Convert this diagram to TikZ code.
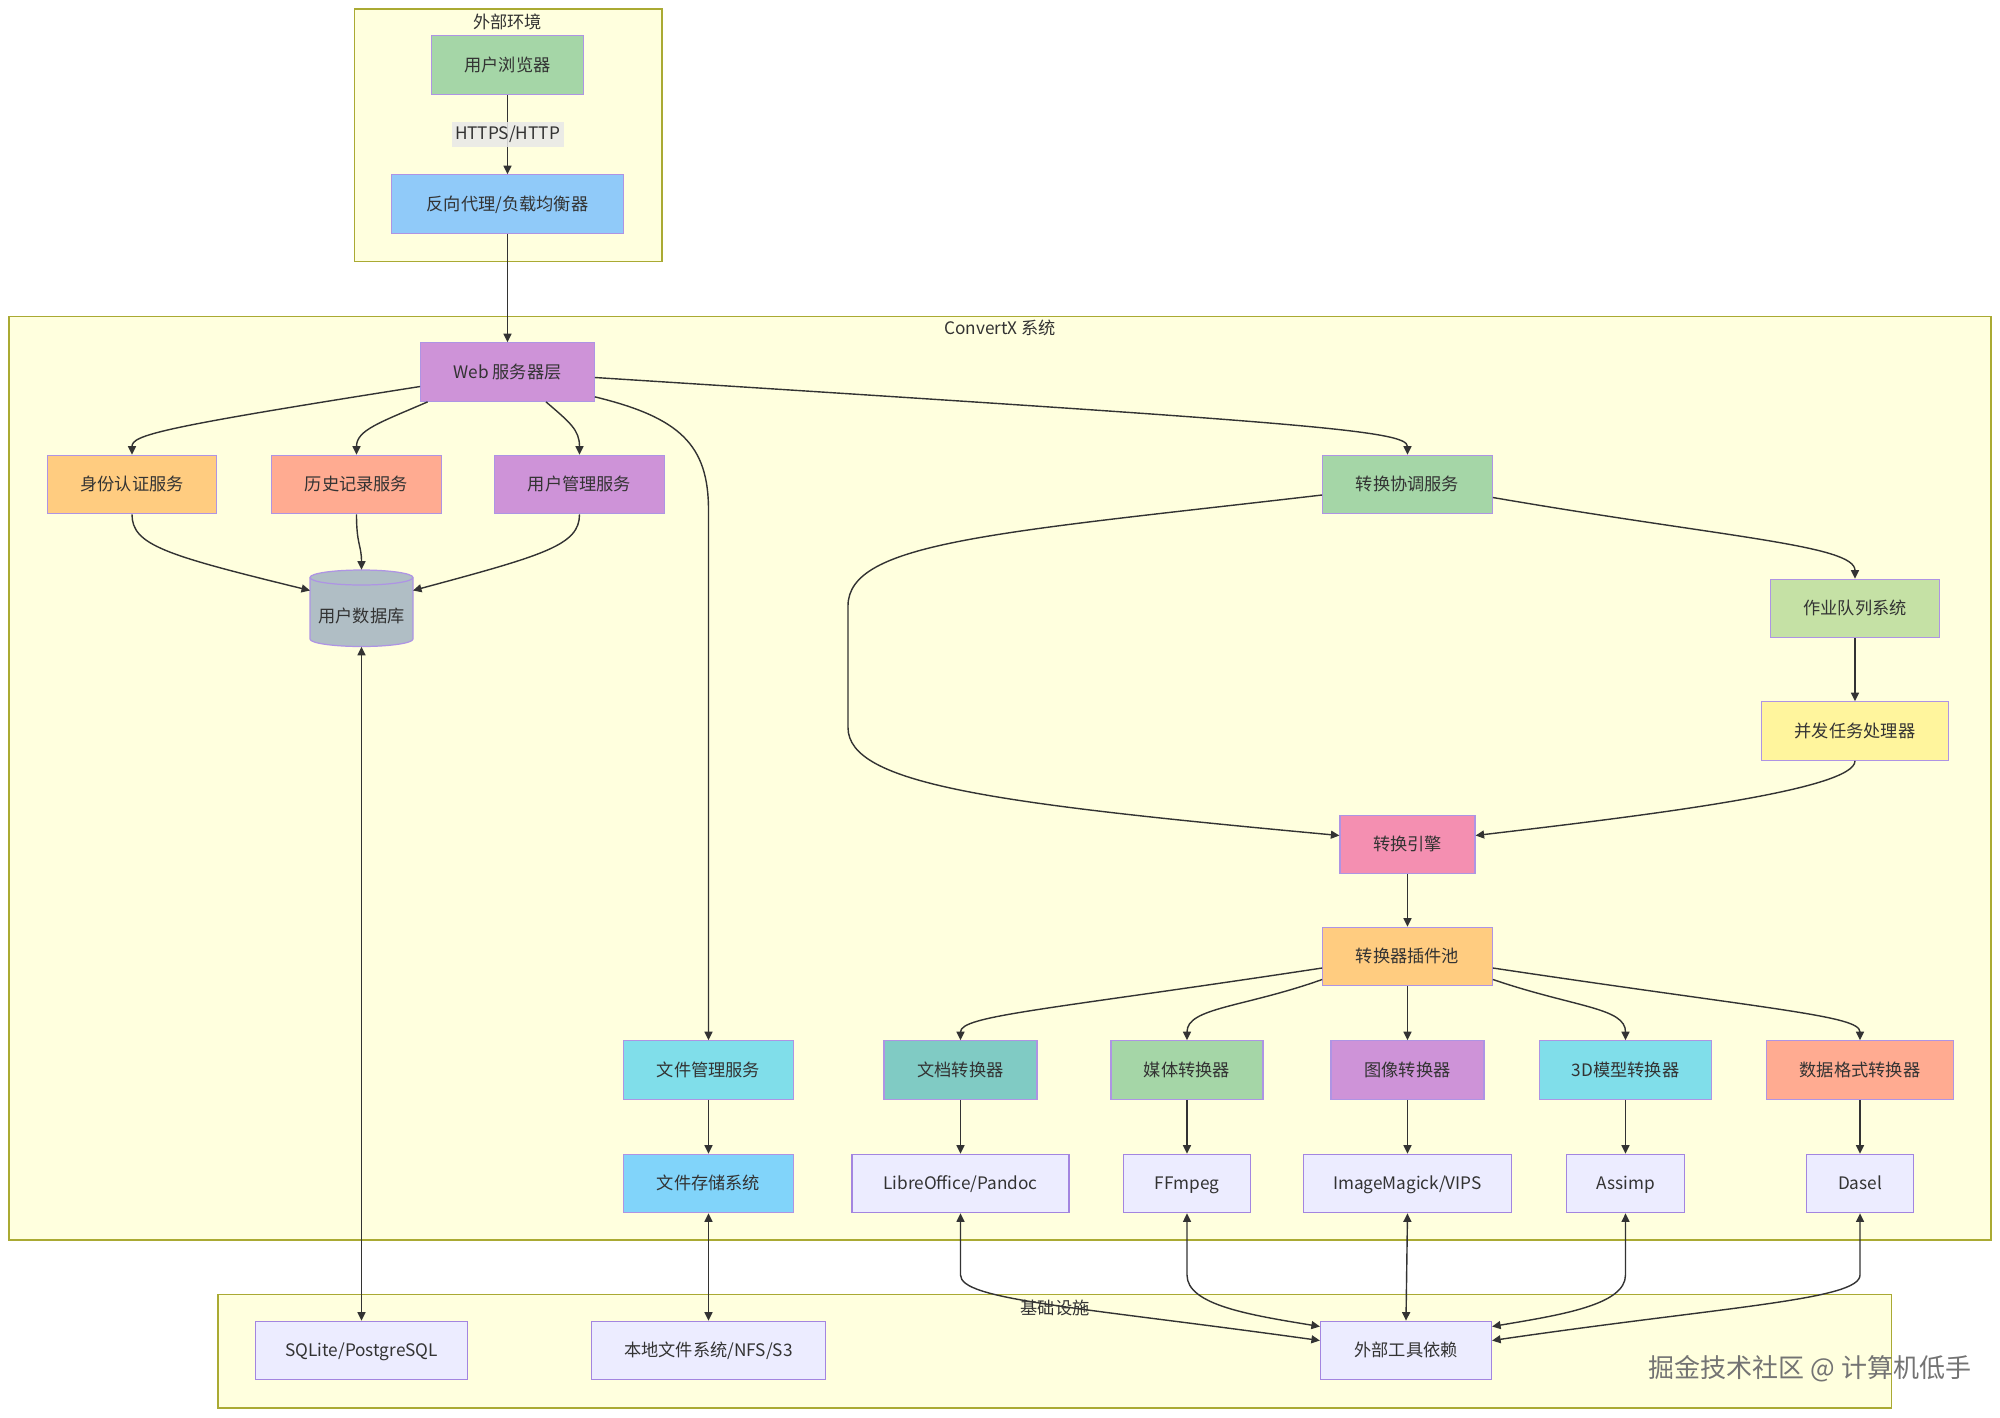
\documentclass[tikz,border=0pt]{standalone}
\usepackage{fontspec}
\setmainfont{Noto Sans CJK SC}
\usetikzlibrary{arrows.meta}

\definecolor{grpfill}{HTML}{FFFFDE}
\definecolor{grpline}{HTML}{AAAA33}
\definecolor{ndline}{HTML}{9370DB}
\definecolor{linecol}{HTML}{333333}
\definecolor{txtcol}{HTML}{333333}
\definecolor{lblfill}{HTML}{E8E8E8}
\definecolor{toolfill}{HTML}{ECECFF}
\definecolor{cGreen}{HTML}{A5D6A7}
\definecolor{cBlue}{HTML}{90CAF9}
\definecolor{cPurple}{HTML}{CE93D8}
\definecolor{cOrange}{HTML}{FFCC80}
\definecolor{cSalmon}{HTML}{FFAB91}
\definecolor{cGrey}{HTML}{B0BEC5}
\definecolor{cLime}{HTML}{C5E1A5}
\definecolor{cYellow}{HTML}{FFF59D}
\definecolor{cPink}{HTML}{F48FB1}
\definecolor{cCyan}{HTML}{80DEEA}
\definecolor{cTeal}{HTML}{80CBC4}
\definecolor{cSky}{HTML}{81D4FA}

\begin{document}
\begin{tikzpicture}[
  font=\fontsize{9.8}{12}\selectfont,
  text=txtcol,
  nd/.style={draw=ndline!75, line width=0.7pt, minimum height=1.17cm, inner sep=0pt, align=center,
    text height=0.85em, text depth=0.15em},
  tool/.style={nd, fill=toolfill, draw=ndline!85},
  grp/.style={fill=grpfill, draw=grpline, line width=0.7pt},
  grptitle/.style={inner sep=1pt},
  arr/.style={-{Triangle[length=1.7mm, width=1.6mm]}, line width=0.8pt, draw=linecol},
  biarr/.style={{Triangle[length=1.7mm, width=1.6mm]}-{Triangle[length=1.7mm, width=1.6mm]}, line width=0.8pt, draw=linecol},
  lbl/.style={fill=lblfill, fill opacity=0.85, text opacity=1, inner sep=2pt, minimum width=2.0cm, minimum height=0.5cm},
]
\useasboundingbox (0,0) rectangle (40,-28.34);
\fill[white] (0,0) rectangle (40,-28.34);

% --- subgraph frames ---
\draw[grp] (7.09,-0.18) rectangle (13.24,-5.23);
\node[grptitle] (envT) at (10.15,-0.44) {外部环境};
\draw[grp] (0.18,-6.33) rectangle (39.82,-24.80);
\node[grptitle] (sysT) at (20.0,-6.56) {ConvertX 系统};
\draw[grp] (4.36,-25.89) rectangle (37.83,-28.16);

% --- outside ---
\node[nd, fill=cGreen, minimum width=3.04cm] (browser) at (10.15,-1.30) {用户浏览器};
\node[nd, fill=cBlue,  minimum width=4.64cm] (proxy)   at (10.15,-4.08) {反向代理/负载均衡器};

% --- web layer and services ---
\node[nd, fill=cPurple, minimum width=3.47cm] (web)   at (10.15,-7.44) {Web 服务器层};
\node[nd, fill=cOrange, minimum width=3.39cm] (auth)  at (2.64,-9.69)  {身份认证服务};
\node[nd, fill=cSalmon, minimum width=3.39cm] (hist)  at (7.13,-9.69)  {历史记录服务};
\node[nd, fill=cPurple, minimum width=3.39cm] (users) at (11.59,-9.69) {用户管理服务};

% user db cylinder
\filldraw[fill=cGrey, draw=ndline!75, line width=0.7pt] (6.20,-11.55) -- (6.20,-12.78)
  arc[start angle=180, end angle=360, x radius=1.03, y radius=0.15] -- (8.26,-11.55)
  arc[start angle=0, end angle=180, x radius=1.03, y radius=0.15] -- cycle;
\draw[ndline!75, line width=0.7pt] (6.20,-11.55) arc[start angle=180, end angle=360, x radius=1.03, y radius=0.15];
\node[minimum width=2.06cm, minimum height=1.22cm, inner sep=0pt] (db) at (7.23,-12.32) {用户数据库};

% --- conversion chain ---
\node[nd, fill=cGreen,  minimum width=3.39cm] (coord)  at (28.15,-9.69)  {转换协调服务};
\node[nd, fill=cLime,   minimum width=3.39cm] (queue)  at (37.10,-12.17) {作业队列系统};
\node[nd, fill=cYellow, minimum width=3.75cm] (worker) at (37.10,-14.62) {并发任务处理器};
\node[nd, fill=cPink,   minimum width=2.70cm] (engine) at (28.15,-16.89) {转换引擎};
\node[nd, fill=cOrange, minimum width=3.39cm] (pool)   at (28.15,-19.13) {转换器插件池};

% --- converter row ---
\node[nd, fill=cCyan,   minimum width=3.39cm] (files)     at (14.17,-21.40) {文件管理服务};
\node[nd, fill=cTeal,   minimum width=3.06cm] (docconv)   at (19.21,-21.40) {文档转换器};
\node[nd, fill=cGreen,  minimum width=3.04cm] (mediaconv) at (23.74,-21.40) {媒体转换器};
\node[nd, fill=cPurple, minimum width=3.06cm] (imgconv)   at (28.15,-21.40) {图像转换器};
\node[nd, fill=cCyan,   minimum width=3.44cm] (modelconv) at (32.51,-21.40) {3D模型转换器};
\node[nd, fill=cSalmon, minimum width=3.75cm] (dataconv)  at (37.20,-21.40) {数据格式转换器};

% --- tool row ---
\node[nd, fill=cSky, minimum width=3.39cm] (store)  at (14.17,-23.67) {文件存储系统};
\node[tool, minimum width=4.34cm] (libre)  at (19.21,-23.67) {LibreOffice/Pandoc};
\node[tool, minimum width=2.53cm] (ffmpeg) at (23.74,-23.67) {FFmpeg};
\node[tool, minimum width=4.16cm] (magick) at (28.15,-23.67) {ImageMagick/VIPS};
\node[tool, minimum width=2.37cm] (assimp) at (32.51,-23.67) {Assimp};
\node[tool, minimum width=2.14cm] (dasel)  at (37.20,-23.67) {Dasel};

% --- infrastructure ---
\node[grptitle] (infraT) at (21.10,-26.15) {基础设施};
\node[tool, minimum width=4.23cm] (sqlite)   at (7.23,-27.01)  {SQLite/PostgreSQL};
\node[tool, minimum width=4.69cm] (localfs)  at (14.17,-27.01) {本地文件系统/NFS/S3};
\node[tool, minimum width=3.42cm] (exttools) at (28.12,-27.01) {外部工具依赖};

\node[text=black!55, font=\fontsize{14.8}{18}\selectfont] (wmark) at (36.2,-27.37) {掘金技术社区 @ 计算机低手};

% --- connectors ---
\draw[arr] (browser) -- node[lbl] {HTTPS/HTTP} (proxy);
\draw[arr] (proxy) -- (web);

\draw[arr] ([yshift=-0.29cm]web.west) .. controls (3.2,-8.55) and (2.64,-8.7) .. (auth.north);
\draw[arr] ([xshift=0.15cm]web.south west) .. controls (7.6,-8.45) and (7.13,-8.6) .. (hist.north);
\draw[arr] ([xshift=0.77cm]web.south) .. controls (11.4,-8.45) and (11.59,-8.6) .. (users.north);
\draw[arr] ([yshift=0.1cm]web.south east) .. controls (13.6,-8.35) and (14.17,-8.9) .. (14.17,-10.2) -- (files.north);
\draw[arr] ([yshift=-0.11cm]web.east) .. controls (26,-8.45) and (28.15,-8.6) .. (coord.north);

\draw[arr] (auth.south) .. controls (2.64,-10.9) and (3.3,-11.1) .. ([shift={(-1.03,0.51)}]db.center);
\draw[arr] (hist.south) .. controls (7.13,-10.9) and (7.23,-10.9) .. ([yshift=0.31cm]db.north);
\draw[arr] (users.south) .. controls (11.59,-10.9) and (10.9,-11.1) .. ([shift={(1.03,0.51)}]db.center);

\draw[arr] ([yshift=-0.21cm]coord.west) .. controls (19.9,-10.66) and (16.96,-10.84) .. (16.96,-12.12)
  -- (16.96,-14.55) .. controls (16.96,-15.69) and (19.9,-16.07) .. ([yshift=0.18cm]engine.west);
\draw[arr] ([yshift=-0.26cm]coord.east) .. controls (34.5,-10.75) and (37.10,-10.9) .. (queue.north);
\draw[arr] (queue) -- (worker);
\draw[arr] (worker.south) .. controls (37.10,-15.8) and (33,-16.3) .. ([yshift=0.18cm]engine.east);
\draw[arr] (engine) -- (pool);

\draw[arr] ([yshift=-0.23cm]pool.west) .. controls (20.92,-20.2) and (19.21,-20.31) .. (docconv.north);
\draw[arr] ([yshift=-0.46cm]pool.west) .. controls (24.87,-20.15) and (23.74,-20.15) .. (mediaconv.north);
\draw[arr] (pool) -- (imgconv);
\draw[arr] ([yshift=-0.46cm]pool.east) .. controls (31.5,-20.15) and (32.51,-20.15) .. (modelconv.north);
\draw[arr] ([yshift=-0.23cm]pool.east) .. controls (35.46,-20.2) and (37.20,-20.31) .. (dataconv.north);

\draw[arr] (files) -- (store);
\draw[arr] (docconv) -- (libre);
\draw[arr] (mediaconv) -- (ffmpeg);
\draw[arr] (imgconv) -- (magick);
\draw[arr] (modelconv) -- (assimp);
\draw[arr] (dataconv) -- (dasel);

% two-way links down to infrastructure
\draw[biarr] (db.south) -- (sqlite.north);
\draw[biarr] (store) -- (localfs);
\draw[biarr] (libre.south) -- (19.21,-25.5) .. controls (19.21,-26.0) and (21.5,-26.13) .. ([yshift=0.2cm]exttools.west);
\draw[biarr] (ffmpeg.south) -- (23.74,-25.5) .. controls (23.74,-26.1) and (25.0,-26.3) .. ([yshift=0.48cm]exttools.west);
\draw[biarr] (magick.south) -- (exttools.north);
\draw[biarr] (assimp.south) -- (32.51,-25.5) .. controls (32.51,-26.1) and (31.2,-26.3) .. ([yshift=0.48cm]exttools.east);
\draw[biarr] (dasel.south) -- (37.20,-25.5) .. controls (37.20,-26.0) and (34.5,-26.13) .. ([yshift=0.2cm]exttools.east);

\end{tikzpicture}
\end{document}
